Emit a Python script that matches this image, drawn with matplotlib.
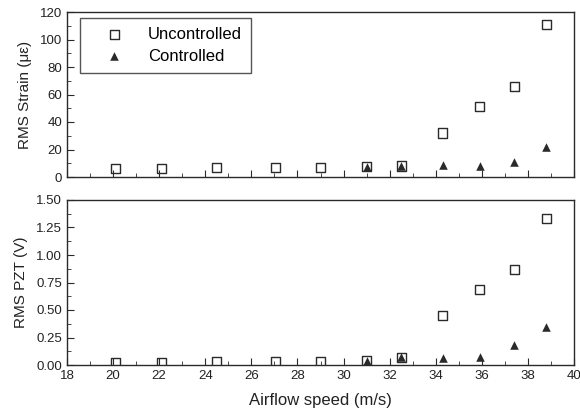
import matplotlib
matplotlib.use("Agg")
import matplotlib.pyplot as plt
from matplotlib.ticker import MultipleLocator

plt.rcParams['font.family'] = ['Liberation Sans', 'DejaVu Sans']

speed = [20.1, 22.1, 24.5, 27.05, 29.0, 31.0, 32.5, 34.3, 35.9, 37.4, 38.8]
speed_ctrl = [31.0, 32.5, 34.3, 35.9, 37.4, 38.8]

strain_unc = [6, 6.5, 7, 7, 7, 7.5, 8, 32, 51, 66, 111]
strain_ctrl = [7, 8, 8.5, 8, 11, 22]

pzt_unc = [0.02, 0.02, 0.03, 0.03, 0.03, 0.04, 0.07, 0.45, 0.69, 0.87, 1.33]
pzt_ctrl = [0.04, 0.07, 0.06, 0.07, 0.18, 0.345]

ink = '#2a2a2a'
txt = '#222222'
fig = plt.figure(figsize=(5.8, 4.13), dpi=100)
ax1 = fig.add_axes([67/580, 1-177/413, (574-67)/580, 165/413])
ax2 = fig.add_axes([67/580, 1-365/413, (574-67)/580, 165/413])

def style(ax):
    for s in ax.spines.values():
        s.set_color(ink)
        s.set_linewidth(1.0)
    ax.tick_params(which='both', direction='in', top=False, right=False,
                   colors=ink, labelcolor=txt, labelsize=9.5)
    ax.tick_params(which='major', length=5)
    ax.tick_params(which='minor', length=3)
    ax.set_xlim(18, 40)
    ax.xaxis.set_major_locator(MultipleLocator(2))
    ax.xaxis.set_minor_locator(MultipleLocator(1))

sq = dict(marker='s', s=42, facecolors='none', edgecolors=ink, linewidths=1.0, zorder=3)
tri = dict(marker='^', s=38, color=ink, linewidths=0, zorder=4)

ax1.scatter(speed, strain_unc, label='Uncontrolled', **sq)
ax1.scatter(speed_ctrl, strain_ctrl, label='Controlled', **tri)
style(ax1)
ax1.set_ylim(0, 120)
ax1.yaxis.set_major_locator(MultipleLocator(20))
ax1.yaxis.set_minor_locator(MultipleLocator(10))
ax1.set_xticklabels([])
ax1.set_ylabel('RMS Strain (με)', fontsize=11, color=txt, labelpad=6)
leg = ax1.legend(loc='upper left', bbox_to_anchor=(0.026, 0.964), fontsize=12,
                 frameon=True, fancybox=False, edgecolor=ink, borderpad=0.55,
                 handletextpad=0.5, labelspacing=0.4, borderaxespad=0,
                 handlelength=3.0)
leg.get_frame().set_linewidth(1.0)

ax2.scatter(speed, pzt_unc, **sq)
ax2.scatter(speed_ctrl, pzt_ctrl, **tri)
style(ax2)
ax2.set_ylim(0, 1.5)
ax2.yaxis.set_major_locator(MultipleLocator(0.25))
ax2.yaxis.set_minor_locator(MultipleLocator(0.125))
ax2.yaxis.set_major_formatter(plt.FormatStrFormatter('%.2f'))
ax2.set_ylabel('RMS PZT (V)', fontsize=11, color=txt, labelpad=6)
ax2.set_xlabel('Airflow speed (m/s)', fontsize=12, color=txt, labelpad=8)

fig.savefig('out.png', dpi=100)
